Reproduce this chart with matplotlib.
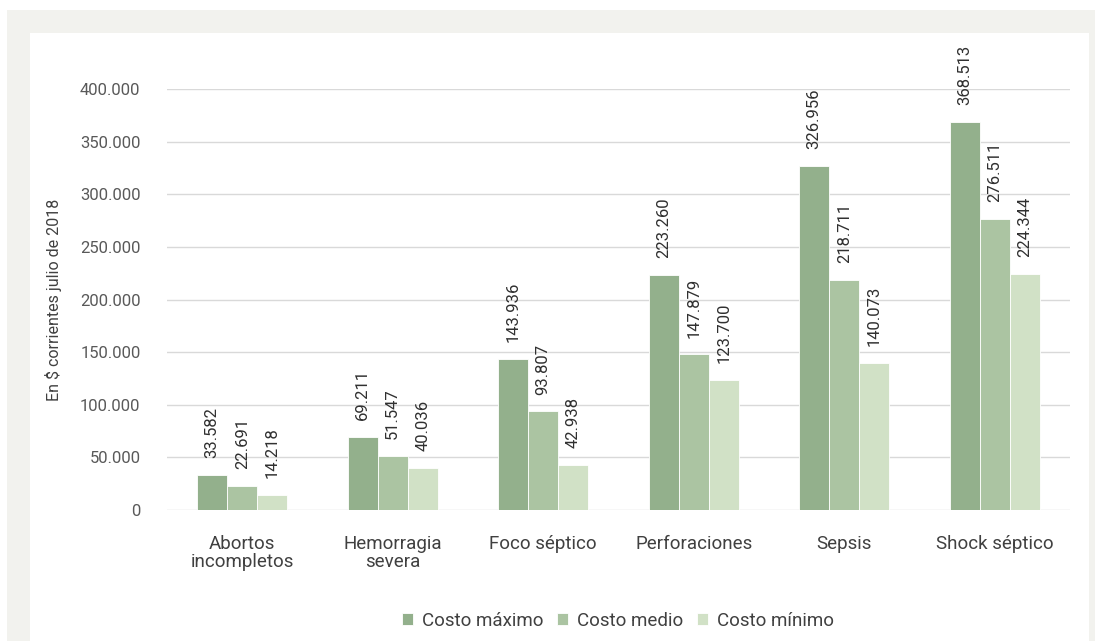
import matplotlib.pyplot as plt
import matplotlib.ticker as mticker
import numpy as np
from matplotlib.patches import Rectangle

plt.rcParams["font.family"] = ["Roboto", "DejaVu Sans"]

categories = ["Abortos\nincompletos", "Hemorragia\nsevera", "Foco séptico",
              "Perforaciones", "Sepsis", "Shock séptico"]
series_names = ["Costo máximo", "Costo medio", "Costo mínimo"]
costo_maximo = [33582, 69211, 143936, 223260, 326956, 368513]
costo_medio = [22691, 51547, 93807, 147879, 218711, 276511]
costo_minimo = [14218, 40036, 42938, 123700, 140073, 224344]
y_ticks = [0, 50000, 100000, 150000, 200000, 250000, 300000, 350000, 400000]

COLORS = ["#93b08c", "#abc4a2", "#d1e1c6"]
W, H = 1095, 641


def miles(x, _):
    return f"{x:,.0f}".replace(",", ".")


def main():
    fig = plt.figure(figsize=(W / 100, H / 100), dpi=100)
    fig.patches.append(Rectangle((7 / W, 0), 1, 1 - 10 / H, transform=fig.transFigure,
                                 facecolor="#f2f2ee", edgecolor="none", zorder=-2))
    fig.patches.append(Rectangle((30 / W, 0), (1089 - 30) / W, 1 - 33 / H,
                                 transform=fig.transFigure, facecolor="white",
                                 edgecolor="none", zorder=-1))

    ax = fig.add_axes([167 / W, (H - 510) / H, (1070 - 167) / W, (510 - 89) / H])
    ax.set_facecolor("none")

    x = np.arange(len(categories))
    width = 0.2
    data = [costo_maximo, costo_medio, costo_minimo]
    for i, (vals, name, col) in enumerate(zip(data, series_names, COLORS)):
        bars = ax.bar(x + (i - 1) * width, vals, width, color=col, label=name,
                      edgecolor="white", linewidth=0.6, zorder=3)
        for b, v in zip(bars, vals):
            ax.annotate(miles(v, None), (b.get_x() + b.get_width() / 2, v),
                        xytext=(0, 12), textcoords="offset points", rotation=90,
                        ha="center", va="bottom", fontsize=12, color="#303030",
                        annotation_clip=False)

    ax.set_xlim(-0.5, len(categories) - 0.5)
    ax.set_ylim(0, 400000)
    ax.set_yticks(y_ticks)
    ax.yaxis.set_major_formatter(mticker.FuncFormatter(miles))
    ax.set_xticks(x)
    ax.set_xticklabels(categories, fontsize=13.5, color="#404040", linespacing=1.0)

    ax.grid(True, axis="y", color="#d9d9d9", linewidth=1, zorder=0)
    ax.grid(False, axis="x")
    for s in ax.spines.values():
        s.set_visible(False)
    ax.tick_params(axis="both", length=0)
    ax.tick_params(axis="y", labelsize=12, labelcolor="#595959", pad=19)
    ax.tick_params(axis="x", pad=18)

    ax.set_ylabel("En $ corrientes julio de 2018", fontsize=11.5, color="#404040")
    ax.yaxis.set_label_coords(-0.116, 0.5)

    handles, labels = ax.get_legend_handles_labels()
    fig.legend(handles, labels, loc="center", bbox_to_anchor=(618 / W, 20 / H),
               ncol=3, frameon=False, fontsize=13.5, labelcolor="#404040",
               handlelength=0.6, handleheight=0.6, handletextpad=0.5,
               columnspacing=0.7)

    fig.savefig("out.png", dpi=100)


if __name__ == "__main__":
    main()
